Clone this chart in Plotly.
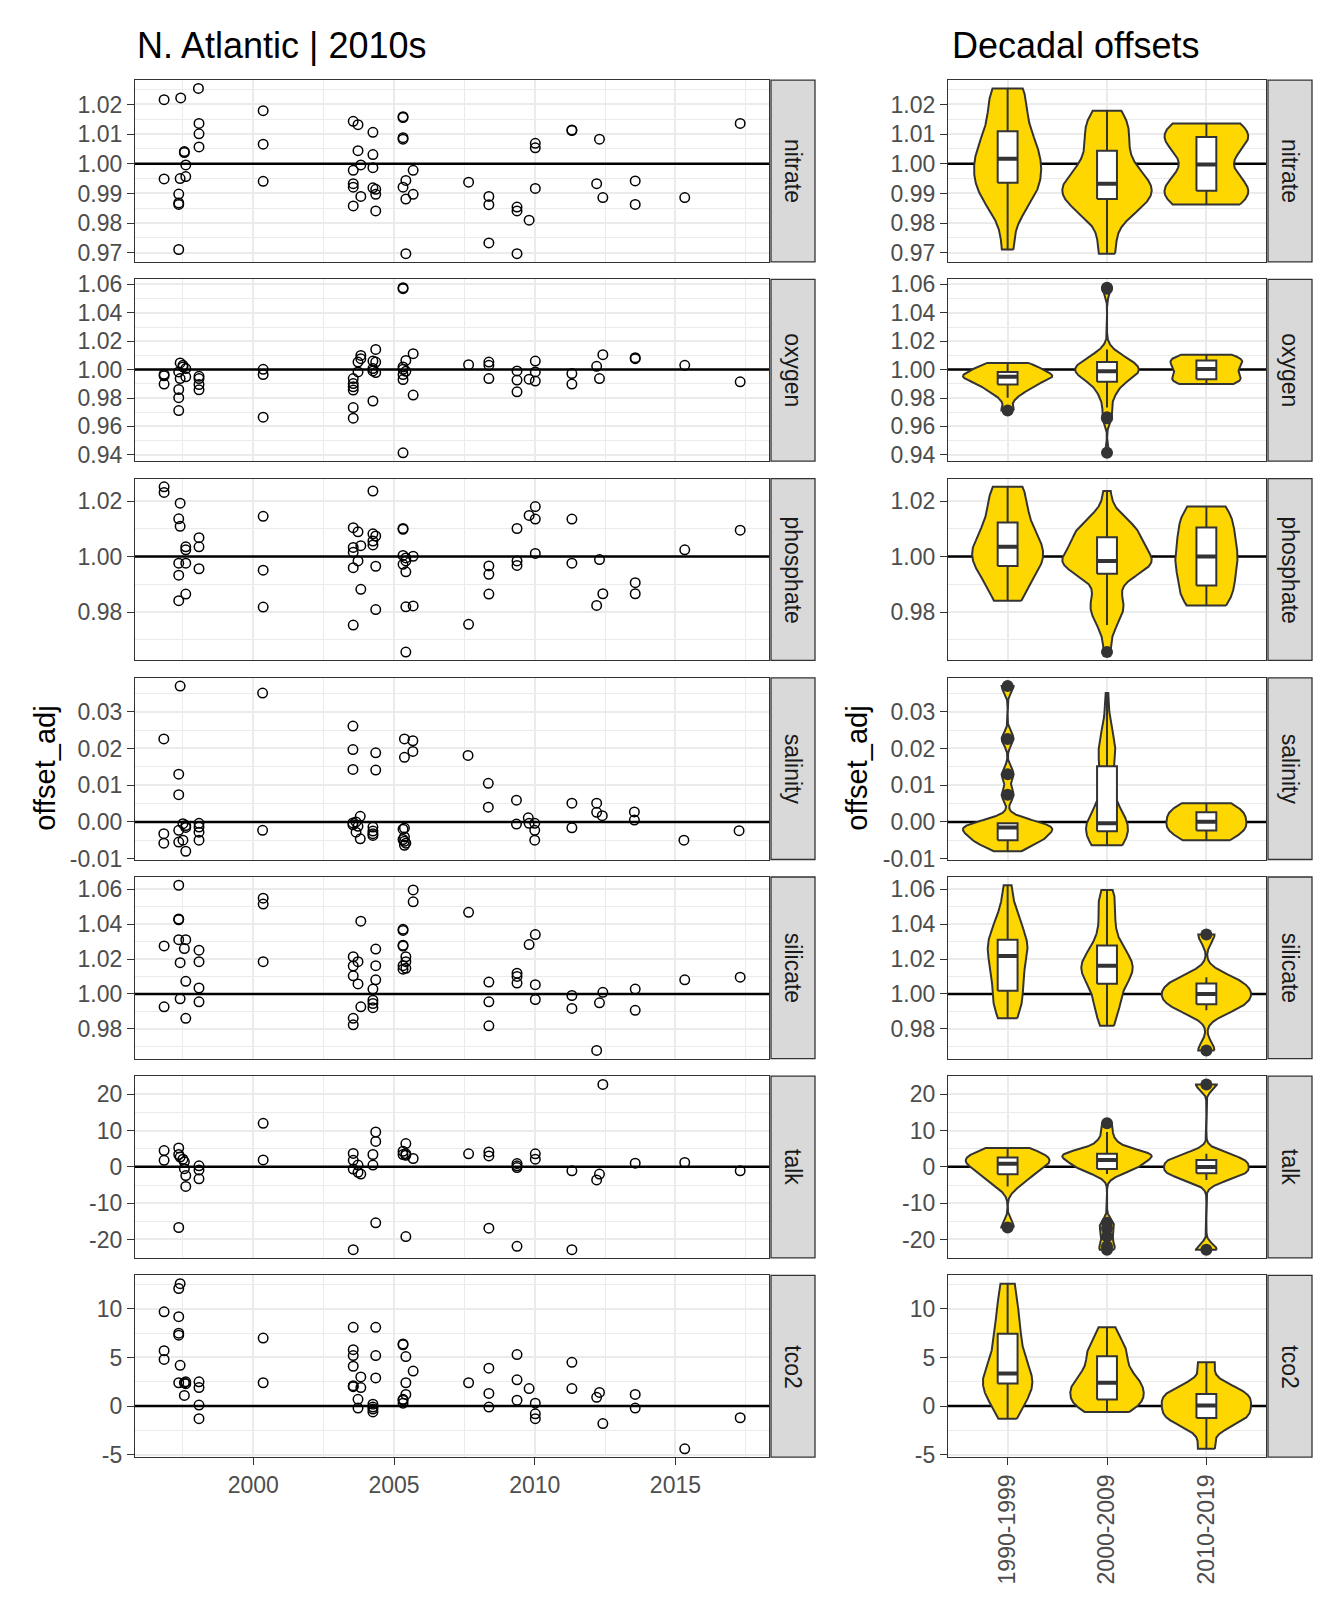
import numpy as np
import plotly.graph_objects as go

# ---------------- data ----------------
nitrate_year = [1996.83, 1996.83, 1997.42, 1998.05, 1998.07, 1998.07, 1998.07, 1997.55, 1997.55,
                1997.6, 1997.6, 1997.4, 1997.35, 1997.35, 1997.35, 1997.35,
                2000.35, 2000.35, 2000.35,
                2003.55, 2003.55, 2003.55, 2003.55, 2003.55, 2003.72, 2003.72, 2003.82, 2003.82,
                2004.25, 2004.25, 2004.25, 2004.25, 2004.35, 2004.35, 2004.35,
                2005.32, 2005.32, 2005.32, 2005.32, 2005.32, 2005.42, 2005.42, 2005.42, 2005.68, 2005.68,
                2007.65, 2008.37, 2008.37, 2008.37, 2009.37, 2009.37, 2009.37, 2009.8,
                2010.02, 2010.02, 2010.02, 2011.32, 2011.32, 2012.2, 2012.3, 2012.42,
                2013.57, 2013.57, 2015.33, 2017.3]
nitrate_value = [1.0216, 0.9949, 1.0222, 1.0254, 1.0136, 1.0101, 1.0057, 1.0038, 1.0041,
                 0.9996, 0.9957, 0.9950, 0.9898, 0.9868, 0.9863, 0.9711,
                 1.0179, 1.0066, 0.9941,
                 1.0143, 0.9978, 0.9933, 0.9921, 0.9858, 1.0132, 1.0044, 0.9996, 0.9890,
                 1.0106, 1.0031, 0.9987, 0.9919, 0.9914, 0.9897, 0.9841,
                 1.0159, 1.0156, 1.0088, 1.0083, 0.9921, 0.9944, 0.9881, 0.9697, 0.9978, 0.9897,
                 0.9938, 0.9890, 0.9862, 0.9733, 0.9854, 0.9841, 0.9697, 0.9810,
                 1.0069, 1.0054, 0.9917, 1.0114, 1.0112, 0.9933, 1.0083, 0.9886,
                 0.9942, 0.9863, 0.9886, 1.0136]

oxygen_year = [1996.83, 1996.83, 1996.83, 1997.4, 1997.4, 1997.5, 1997.5, 1997.6, 1997.6,
               1997.35, 1997.35, 1997.35, 1997.35, 1998.07, 1998.07, 1998.07, 1998.07,
               2000.35, 2000.35, 2000.35,
               2003.55, 2003.55, 2003.55, 2003.55, 2003.55, 2003.55, 2003.72, 2003.72, 2003.82, 2003.82,
               2004.25, 2004.25, 2004.25, 2004.25, 2004.35, 2004.35, 2004.35,
               2005.32, 2005.32, 2005.32, 2005.32, 2005.32, 2005.32, 2005.32, 2005.42, 2005.42,
               2005.68, 2005.68, 2007.65, 2008.37, 2008.37, 2008.37, 2009.37, 2009.37, 2009.37, 2009.8,
               2010.02, 2010.02, 2010.02, 2011.32, 2011.32, 2012.2, 2012.3, 2012.42,
               2013.57, 2013.57, 2015.33, 2017.3]
oxygen_value = [0.9967, 0.9956, 0.9898, 1.0047, 0.9937, 1.0030, 1.0019, 1.0007, 0.9949,
                0.9984, 0.9860, 0.9802, 0.9712, 0.9953, 0.9937, 0.9895, 0.9858,
                1.0002, 0.9965, 0.9665,
                0.9937, 0.9902, 0.9879, 0.9856, 0.9733, 0.9658, 1.0053, 0.9984, 1.0100, 1.0077,
                1.0060, 1.0007, 0.9991, 0.9779, 1.0142, 1.0053, 0.9979,
                1.0577, 1.0570, 1.0019, 1.0002, 0.9965, 0.9930, 0.9414, 1.0065, 0.9988,
                1.0112, 0.9821, 1.0035, 1.0053, 1.0030, 0.9937, 0.9991, 0.9926, 0.9844, 0.9933,
                1.0060, 0.9984, 0.9919, 0.9972, 0.9898, 1.0023, 0.9937, 1.0105,
                1.0084, 1.0077, 1.0030, 0.9914]

phosphate_year = [1996.83, 1996.83, 1997.4, 1997.4, 1997.35, 1997.35, 1997.35, 1997.35,
                  1997.6, 1997.6, 1997.6, 1997.6, 1998.07, 1998.07, 1998.07,
                  2000.35, 2000.35, 2000.35,
                  2003.55, 2003.55, 2003.55, 2003.55, 2003.55, 2003.72, 2003.72, 2003.82, 2003.82,
                  2004.25, 2004.25, 2004.25, 2004.25, 2004.35, 2004.35, 2004.35,
                  2005.32, 2005.32, 2005.32, 2005.32, 2005.42, 2005.42, 2005.42, 2005.42, 2005.42,
                  2005.68, 2005.68, 2007.65, 2008.37, 2008.37, 2008.37, 2009.37, 2009.37, 2009.37, 2009.8,
                  2010.02, 2010.02, 2010.02, 2011.32, 2011.32, 2012.2, 2012.3, 2012.42,
                  2013.57, 2013.57, 2015.33, 2017.3]
phosphate_value = [1.0251, 1.0231, 1.0192, 1.0109, 1.0136, 0.9976, 0.9933, 0.9841,
                   1.0035, 1.0024, 0.9976, 0.9865, 1.0068, 1.0035, 0.9956,
                   1.0145, 0.9951, 0.9818,
                   1.0104, 1.0033, 1.0015, 0.9960, 0.9753, 1.0089, 0.9984, 1.0039, 0.9882,
                   1.0236, 1.0082, 1.0056, 1.0042, 1.0074, 0.9965, 0.9809,
                   1.0101, 1.0098, 1.0004, 0.9972, 0.9995, 0.9984, 0.9945, 0.9819, 0.9656,
                   1.0001, 0.9822, 0.9756, 0.9966, 0.9936, 0.9865, 1.0101, 0.9984, 0.9968, 1.0148,
                   1.0180, 1.0135, 1.0011, 1.0135, 0.9976, 0.9824, 0.9989, 0.9866,
                   0.9906, 0.9866, 1.0024, 1.0095]

salinity_year = [1996.82, 1996.82, 1996.82, 1997.4, 1997.35, 1997.35, 1997.35, 1997.35,
                 1997.5, 1997.5, 1997.6, 1997.6, 1997.6, 1998.07, 1998.07, 1998.07, 1998.07,
                 2000.33, 2000.33, 2003.54, 2003.54, 2003.54, 2003.54, 2003.54, 2003.65, 2003.65,
                 2003.72, 2003.8, 2003.8, 2004.35, 2004.35, 2004.25, 2004.25, 2004.25, 2004.25,
                 2005.32, 2005.32, 2005.37, 2005.37, 2005.37, 2005.37, 2005.37, 2005.37, 2005.42,
                 2005.67, 2005.67, 2007.63, 2008.35, 2008.35, 2009.35, 2009.35, 2009.77, 2009.8,
                 2010.0, 2010.0, 2010.0, 2011.32, 2011.32, 2012.2, 2012.2, 2012.4,
                 2013.54, 2013.54, 2015.3, 2017.26]
salinity_value = [0.0226, -0.0032, -0.0058, 0.0370, 0.0130, 0.0074, -0.0023, -0.0055,
                  -0.0005, -0.0050, -0.0010, -0.0015, -0.0080, -0.0004, -0.0014, -0.0028, -0.0050,
                  0.0351, -0.0023, 0.0261, 0.0197, 0.0143, -0.0003, -0.0008, 0.0000, -0.0028,
                  -0.0012, 0.0015, -0.0046, 0.0188, 0.0141, -0.0014, -0.0032, -0.0037, -0.0025,
                  -0.0020, -0.0048, 0.0226, 0.0176, -0.0017, -0.0041, -0.0053, -0.0064, -0.0058,
                  0.0221, 0.0192, 0.0181, 0.0105, 0.0040, 0.0059, -0.0006, 0.0011, -0.0004,
                  -0.0004, -0.0023, -0.0050, 0.0051, -0.0016, 0.0051, 0.0026, 0.0017,
                  0.0027, 0.0005, -0.0050, -0.0024]

silicate_year = [1997.35, 1997.35, 1997.35, 1997.35, 1997.6, 1997.6, 1997.6, 1997.55,
                 1996.83, 1996.83, 1997.4, 1997.4, 1998.07, 1998.07, 1998.07, 1998.07,
                 2000.35, 2000.35, 2000.35, 2003.82, 2003.82,
                 2003.55, 2003.55, 2003.55, 2003.55, 2003.55, 2003.72, 2003.72,
                 2004.35, 2004.35, 2004.35, 2004.25, 2004.25, 2004.25, 2004.25,
                 2005.68, 2005.68, 2005.32, 2005.32, 2005.32, 2005.32, 2005.32, 2005.32,
                 2005.42, 2005.42, 2005.42, 2007.65, 2008.37, 2008.37, 2008.37,
                 2009.37, 2009.37, 2009.37, 2009.8,
                 2010.02, 2010.02, 2010.02, 2011.32, 2011.32, 2012.2, 2012.3, 2012.42,
                 2013.57, 2013.57, 2015.33, 2017.3]
silicate_value = [1.0623, 1.0430, 1.0425, 1.0311, 1.0311, 1.0072, 0.9860, 1.0260,
                  1.0275, 0.9926, 1.0179, 0.9972, 1.0251, 1.0185, 1.0034, 0.9955,
                  1.0549, 1.0515, 1.0185, 1.0417, 0.9926,
                  1.0213, 1.0160, 1.0104, 0.9860, 0.9823, 1.0185, 1.0057,
                  1.0257, 1.0162, 1.0081, 1.0028, 0.9964, 0.9945, 0.9921,
                  1.0596, 1.0528, 1.0370, 1.0364, 1.0279, 1.0274, 1.0162, 1.0142,
                  1.0213, 1.0185, 1.0147, 1.0468, 1.0068, 0.9955, 0.9817,
                  1.0119, 1.0100, 1.0062, 1.0283,
                  1.0340, 1.0053, 0.9968, 0.9991, 0.9917, 0.9676, 0.9949, 1.0009,
                  1.0028, 0.9906, 1.0081, 1.0096]

talk_year = [1996.83, 1996.83, 1997.35, 1997.35, 1997.35, 1997.4, 1997.5, 1997.55, 1997.55,
             1997.6, 1997.6, 1998.07, 1998.07, 1998.07,
             2000.35, 2000.35, 2003.55, 2003.55, 2003.55, 2003.55, 2003.72, 2003.72, 2003.82,
             2004.25, 2004.25, 2004.35, 2004.35, 2004.35, 2005.32, 2005.32,
             2005.42, 2005.42, 2005.42, 2005.42, 2005.68, 2007.65, 2008.37, 2008.37, 2008.37,
             2009.37, 2009.37, 2009.37, 2009.37,
             2010.02, 2010.02, 2011.32, 2011.32, 2012.2, 2012.3, 2012.42, 2013.57, 2015.33, 2017.3]
talk_value = [4.5, 1.8, 5.2, 3.4, -16.7, 2.7, 2.1, 1.4, -0.5,
              -2.4, -5.4, 0.3, -0.9, -3.3,
              12.0, 1.9, 3.7, 1.8, -0.6, -22.8, 0.5, -1.5, -2.0,
              3.4, 0.5, 9.6, 7.0, -15.4, 4.3, 3.4,
              6.4, 3.6, 3.2, -19.2, 2.3, 3.6, 4.1, 3.0, -16.9,
              0.9, 0.3, -0.2, -21.9,
              3.6, 2.1, -1.1, -22.8, -3.6, -2.0, 22.7, 1.0, 1.2, -1.1]

tco2_year = [1997.4, 1997.4, 1997.35, 1997.35, 1997.35, 1997.35, 1997.35, 1996.83, 1996.83, 1996.83,
             1997.55, 1997.55, 1997.6, 1997.6, 1998.07, 1998.07, 1998.07, 1998.07,
             2000.35, 2000.35, 2003.55, 2003.55, 2003.55, 2003.55, 2003.55, 2003.55,
             2003.82, 2003.82, 2003.72, 2003.72, 2004.35, 2004.35, 2004.35,
             2004.25, 2004.25, 2004.25, 2004.25, 2005.32, 2005.32, 2005.32, 2005.32, 2005.32,
             2005.42, 2005.42, 2005.42, 2005.68, 2007.65, 2008.37, 2008.37, 2008.37,
             2009.37, 2009.37, 2009.37, 2009.8,
             2010.02, 2010.02, 2010.02, 2011.32, 2011.32, 2012.2, 2012.3, 2012.42,
             2013.57, 2013.57, 2015.33, 2017.3]
tco2_value = [12.6, 4.2, 12.1, 9.2, 7.5, 7.3, 2.4, 9.7, 5.7, 4.8,
              2.4, 1.1, 2.5, 2.3, 2.5, 1.9, 0.1, -1.3,
              7.0, 2.4, 8.1, 5.8, 5.2, 4.1, 2.1, 2.0,
              3.0, 1.9, 0.7, -0.2, 8.1, 5.2, 2.9,
              0.2, -0.1, -0.3, -0.6, 6.4, 6.3, 0.7, 0.6, 0.3,
              5.1, 2.4, 1.2, 3.6, 2.4, 3.9, 1.3, -0.1,
              5.3, 2.7, 0.6, 1.8,
              0.3, -0.8, -1.3, 4.5, 1.8, 0.9, 1.4, -1.8,
              1.2, -0.2, -4.4, -1.2]

parameters = ["nitrate", "oxygen", "phosphate", "salinity", "silicate", "talk", "tco2"]
reference_levels = [1, 1, 1, 0, 1, 0, 0]
nitrate_ticks = [0.97, 0.98, 0.99, 1.00, 1.01, 1.02]
oxygen_ticks = [0.94, 0.96, 0.98, 1.00, 1.02, 1.04, 1.06]
phosphate_ticks = [0.98, 1.00, 1.02]
salinity_ticks = [-0.01, 0.00, 0.01, 0.02, 0.03]
silicate_ticks = [0.98, 1.00, 1.02, 1.04, 1.06]
talk_ticks = [-20, -10, 0, 10, 20]
tco2_ticks = [-5, 0, 5, 10]
year_ticks = [2000, 2005, 2010, 2015]
decade_labels = ["1990-1999", "2000-2009", "2010-2019"]
decade_starts = [1990, 2000, 2010]

series = [
    (nitrate_year, nitrate_value, nitrate_ticks, "{:.2f}"),
    (oxygen_year, oxygen_value, oxygen_ticks, "{:.2f}"),
    (phosphate_year, phosphate_value, phosphate_ticks, "{:.2f}"),
    (salinity_year, salinity_value, salinity_ticks, "{:.2f}"),
    (silicate_year, silicate_value, silicate_ticks, "{:.2f}"),
    (talk_year, talk_value, talk_ticks, "{:d}"),
    (tco2_year, tco2_value, tco2_ticks, "{:d}"),
]

# ---------------- styling ----------------
W, H = 1344, 1612
FONT = "Liberation Sans"
DARK = "#333333"
GRID = "#EBEBEB"
FILL = "#FFD700"
LX0, LX1 = 127, 761
RX0, RX1 = 940, 1258
STRIP_GAP, STRIP_W = 2, 44
ROW_TOP, ROW_H, ROW_STEP = 65, 184, 201.7
TITLE_Y = 30


def px_x(v):
    return v / W


def px_y(v):
    return 1 - v / H


def expand(lo, hi, f=0.05):
    d = (hi - lo) * f
    return [lo - d, hi + d]


def minor_vals(ticks, rng):
    step = ticks[1] - ticks[0]
    vals = [t + step / 2 for t in [ticks[0] - step] + list(ticks)]
    return [v for v in vals if rng[0] <= v <= rng[1]]


def kde(vals):
    v = np.asarray(vals, dtype=float)
    n = len(v)
    sd = v.std(ddof=1)
    q25, q75 = np.percentile(v, [25, 75])
    lo = min(sd, (q75 - q25) / 1.34)
    if lo <= 0:
        lo = sd if sd > 0 else 1.0
    bw = 0.9 * lo * n ** (-0.2)
    grid = np.linspace(v.min(), v.max(), 512)
    dens = np.exp(-0.5 * ((grid[:, None] - v[None, :]) / bw) ** 2).sum(1) / (n * bw * np.sqrt(2 * np.pi))
    return grid, dens


all_years = [y for s in series for y in s[0]]
x_left_range = expand(min(all_years), max(all_years))
x_minor = [1997.5, 2002.5, 2007.5, 2012.5, 2017.5]

fig = go.Figure()
layout = {}
shapes = []
annotations = []
TICKFONT = dict(family=FONT, size=23, color="#4D4D4D")

for i, (yrs, vals, ticks, fmt) in enumerate(series):
    top = ROW_TOP + ROW_STEP * i
    bot = top + ROW_H
    kl, kr = 2 * i + 1, 2 * i + 2
    xl, yl = ("x", "y") if kl == 1 else (f"x{kl}", f"y{kl}")
    xr, yr = f"x{kr}", f"y{kr}"
    yrange = expand(min(vals), max(vals))
    ref = reference_levels[i]
    last = i == len(series) - 1
    ticktext = [fmt.format(int(t)) if fmt == "{:d}" else fmt.format(t) for t in ticks]

    yaxis_common = dict(
        range=yrange, tickmode="array", tickvals=ticks, ticktext=ticktext,
        showgrid=True, gridcolor=GRID, gridwidth=1.5,
        minor=dict(tickmode="array", tickvals=minor_vals(ticks, yrange), showgrid=True,
                   gridcolor=GRID, gridwidth=0.8, ticks=""),
        showline=True, mirror=True, linecolor=DARK, linewidth=1.3,
        ticks="outside", ticklen=7, tickwidth=1.3, tickcolor=DARK,
        tickfont=TICKFONT, zeroline=False,
    )
    xaxis_common = dict(
        showline=True, mirror=True, linecolor=DARK, linewidth=1.3,
        showgrid=True, gridcolor=GRID, gridwidth=1.5, zeroline=False,
        tickfont=TICKFONT,
        ticks="outside" if last else "", ticklen=7, tickwidth=1.3, tickcolor=DARK,
        showticklabels=last,
    )

    ydom = [px_y(bot), px_y(top)]
    layout["xaxis" if kl == 1 else f"xaxis{kl}"] = dict(
        xaxis_common, domain=[px_x(LX0), px_x(LX1)], anchor=yl, range=x_left_range,
        tickmode="array", tickvals=year_ticks, ticktext=[str(t) for t in year_ticks],
        minor=dict(tickmode="array", tickvals=x_minor, showgrid=True, gridcolor=GRID,
                   gridwidth=0.8, ticks=""),
    )
    layout["yaxis" if kl == 1 else f"yaxis{kl}"] = dict(yaxis_common, domain=ydom, anchor=xl)
    layout[f"xaxis{kr}"] = dict(
        xaxis_common, domain=[px_x(RX0), px_x(RX1)], anchor=yr, range=[0.4, 3.6],
        tickmode="array", tickvals=[1, 2, 3], ticktext=decade_labels, tickangle=-90,
    )
    layout[f"yaxis{kr}"] = dict(yaxis_common, domain=ydom, anchor=xr)

    # ----- left: reference line + points -----
    fig.add_trace(go.Scatter(x=x_left_range, y=[ref, ref], mode="lines", xaxis=xl, yaxis=yl,
                             line=dict(color="black", width=2.5), hoverinfo="skip", showlegend=False))
    fig.add_trace(go.Scatter(x=yrs, y=vals, mode="markers", xaxis=xl, yaxis=yl,
                             marker=dict(symbol="circle-open", size=9.5, color="black",
                                         line=dict(width=1.5, color="black")),
                             showlegend=False))

    # ----- right: reference line + violins + boxes -----
    fig.add_trace(go.Scatter(x=[0.4, 3.6], y=[ref, ref], mode="lines", xaxis=xr, yaxis=yr,
                             line=dict(color="black", width=2.5), hoverinfo="skip", showlegend=False))
    groups = []
    for d in decade_starts:
        groups.append([v for y, v in zip(yrs, vals) if d <= y < d + 10])
    dens_list = [kde(g) for g in groups]
    maxd = max(dd.max() for _, dd in dens_list)
    for pos, (grid, dens) in enumerate(dens_list, start=1):
        half = 0.45 * dens / maxd
        vx = np.concatenate([pos + half, (pos - half)[::-1], [pos + half[0]]])
        vy = np.concatenate([grid, grid[::-1], [grid[0]]])
        fig.add_trace(go.Scatter(x=vx, y=vy, mode="lines", fill="toself", fillcolor=FILL,
                                 line=dict(color=DARK, width=2), xaxis=xr, yaxis=yr,
                                 hoverinfo="skip", showlegend=False))
    for pos, g in enumerate(groups, start=1):
        g = np.asarray(g)
        q1, med, q3 = np.percentile(g, [25, 50, 75])
        iqr = q3 - q1
        lo_f, hi_f = q1 - 1.5 * iqr, q3 + 1.5 * iqr
        inside = g[(g >= lo_f) & (g <= hi_f)]
        outl = g[(g < lo_f) | (g > hi_f)]
        bw2 = 0.1
        fig.add_trace(go.Scatter(x=[pos, pos, None, pos, pos], y=[q3, inside.max(), None, q1, inside.min()],
                                 mode="lines", line=dict(color=DARK, width=2), xaxis=xr, yaxis=yr,
                                 hoverinfo="skip", showlegend=False))
        fig.add_trace(go.Scatter(x=[pos - bw2, pos + bw2, pos + bw2, pos - bw2, pos - bw2],
                                 y=[q1, q1, q3, q3, q1], mode="lines", fill="toself",
                                 fillcolor="white", line=dict(color=DARK, width=2),
                                 xaxis=xr, yaxis=yr, hoverinfo="skip", showlegend=False))
        fig.add_trace(go.Scatter(x=[pos - bw2, pos + bw2], y=[med, med], mode="lines",
                                 line=dict(color=DARK, width=4), xaxis=xr, yaxis=yr,
                                 hoverinfo="skip", showlegend=False))
        if len(outl):
            fig.add_trace(go.Scatter(x=[pos] * len(outl), y=outl, mode="markers",
                                     marker=dict(color=DARK, size=12, line=dict(width=0)),
                                     xaxis=xr, yaxis=yr, showlegend=False))

    # ----- strips -----
    for sx0 in (LX1 + STRIP_GAP, RX1 + STRIP_GAP):
        shapes.append(dict(type="rect", xref="paper", yref="paper",
                           x0=px_x(sx0), x1=px_x(sx0 + STRIP_W), y0=px_y(bot), y1=px_y(top),
                           fillcolor="#D9D9D9", line=dict(color=DARK, width=1.3), layer="above"))
        annotations.append(dict(xref="paper", yref="paper", x=px_x(sx0 + STRIP_W / 2),
                                y=px_y((top + bot) / 2), text=parameters[i], textangle=90,
                                showarrow=False, font=dict(family=FONT, size=23, color="#1A1A1A"),
                                xanchor="center", yanchor="middle"))

mid_y = (ROW_TOP + ROW_TOP + ROW_STEP * 6 + ROW_H) / 2
for tx in (LX0 - 90, RX0 - 91):
    annotations.append(dict(xref="paper", yref="paper", x=px_x(tx), y=px_y(mid_y),
                            text="offset_adj", textangle=-90, showarrow=False,
                            font=dict(family=FONT, size=29, color="black"),
                            xanchor="center", yanchor="middle"))
annotations.append(dict(xref="paper", yref="paper", x=px_x(LX0), y=px_y(TITLE_Y),
                        text="N. Atlantic | 2010s", showarrow=False, xanchor="left",
                        yanchor="middle", font=dict(family=FONT, size=36, color="black")))
annotations.append(dict(xref="paper", yref="paper", x=px_x(RX0 + 2), y=px_y(TITLE_Y),
                        text="Decadal offsets", showarrow=False, xanchor="left",
                        yanchor="middle", font=dict(family=FONT, size=36, color="black")))

fig.update_layout(
    width=W, height=H, margin=dict(l=0, r=0, t=0, b=0),
    paper_bgcolor="white", plot_bgcolor="white",
    shapes=shapes, annotations=annotations, showlegend=False,
    font=dict(family=FONT), **layout,
)

fig.write_html("out.html")
